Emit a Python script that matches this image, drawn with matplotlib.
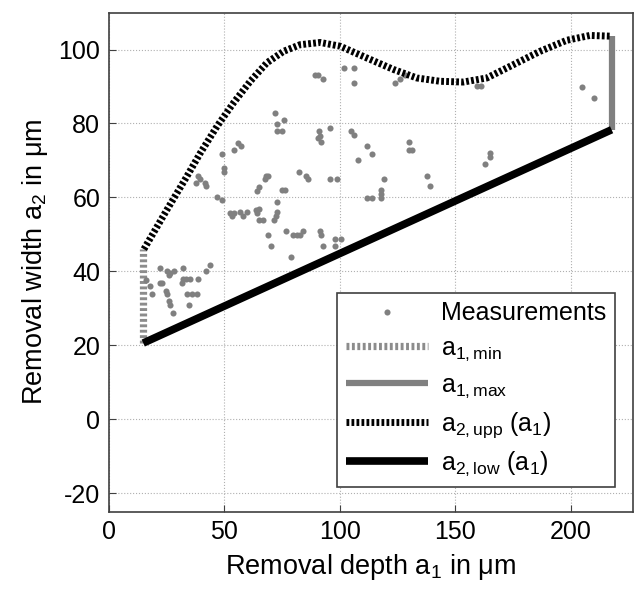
import numpy as np
import matplotlib
matplotlib.use('Agg')
import matplotlib.pyplot as plt

plt.rcParams['font.family'] = ['Liberation Sans', 'DejaVu Sans']
plt.rcParams['mathtext.fontset'] = 'custom'
plt.rcParams['mathtext.rm'] = 'Liberation Sans'
plt.rcParams['mathtext.it'] = 'Liberation Sans'
plt.rcParams['axes.unicode_minus'] = False

# measured points (removal depth a1, removal width a2) in um
meas_a1 = [89.4, 90.8, 93.0, 102.0, 106.0, 106.3, 72.0, 73.0, 76.0, 72.8, 75.0,
           91.1, 95.9, 91.6, 90.8, 92.0, 104.8, 106.0, 56.2, 57.3, 54.1, 49.0,
           50.0, 50.0, 38.9, 39.7, 37.9, 41.8, 42.3, 68.1, 68.9, 67.8, 82.2,
           85.4, 86.1, 95.9, 99.0, 64.2, 65.3, 75.0, 76.5, 47.1, 48.9, 52.6,
           54.1, 53.4, 57.0, 58.1, 59.9, 63.9, 64.2, 65.3, 64.9, 67.0, 72.8,
           72.8, 72.5, 71.7, 69.2, 70.2, 76.9, 79.8, 81.5, 82.9, 84.1, 79.0,
           91.6, 92.0, 93.0, 98.0, 100.5, 98.0, 22.1, 25.3, 26.0, 26.7, 28.1,
           32.2, 32.2, 33.6, 35.3, 38.9, 31.7, 42.3, 44.0, 18.0, 19.0, 16.0,
           22.1, 23.1, 25.0, 25.3, 26.0, 26.7, 27.9, 33.9, 36.1, 38.2, 35.0,
           124.0, 126.2, 128.3, 159.3, 161.2, 205.0, 210.0, 112.0, 113.9,
           108.1, 130.0, 130.0, 131.2, 165.0, 165.0, 163.0, 119.0, 138.0,
           139.1, 112.0, 113.9, 117.8, 117.8, 117.8]
meas_a2 = [93.0, 93.0, 91.9, 95.0, 95.0, 91.0, 82.9, 79.9, 80.9, 77.9, 77.9,
           77.9, 78.8, 76.5, 76.1, 74.9, 77.9, 77.0, 74.7, 74.0, 72.9, 71.8,
           68.0, 66.9, 65.9, 65.0, 63.9, 63.9, 63.0, 65.9, 65.9, 65.0, 66.8,
           65.9, 65.0, 65.0, 65.0, 61.8, 62.8, 61.9, 61.9, 60.1, 59.4, 55.8,
           55.8, 54.9, 56.0, 55.1, 56.0, 56.5, 55.8, 56.9, 54.0, 54.0, 58.7,
           56.0, 54.9, 54.0, 49.9, 46.8, 50.8, 49.9, 49.9, 49.9, 50.8, 43.9,
           50.8, 49.9, 46.8, 48.8, 48.8, 46.8, 40.9, 40.0, 39.1, 39.5, 40.0,
           40.9, 37.9, 37.9, 37.9, 37.9, 36.8, 40.0, 41.8, 35.9, 33.9, 37.7,
           36.8, 36.8, 34.8, 33.9, 31.9, 31.0, 28.7, 33.9, 33.9, 33.9, 30.8,
           91.0, 91.9, 93.0, 90.0, 90.0, 89.9, 86.9, 73.8, 71.8,
           70.0, 74.9, 72.9, 72.9, 72.0, 71.0, 68.9, 65.0, 65.9,
           63.0, 59.9, 59.9, 61.9, 61.0, 59.9]

# limits of the process window
a1_min = 15.0
a1_max = 217.7
a1_min_a2 = [20.6, 46.0]
a1_max_a2 = [78.3, 103.6]

# upper bound a2_upp(a1)
upp_a1 = [15.3, 25.3, 33.9, 39.7, 46.9, 54.1, 61.3, 68.5, 75.7, 82.9, 91.6,
          100.2, 111.8, 123.3, 133.4, 143.5, 153.5, 163.7, 175.2, 186.7,
          198.3, 208.3, 217.7]
upp_a2 = [46.0, 56.7, 65.7, 72.0, 79.2, 85.6, 91.4, 96.4, 99.5, 101.3, 101.9,
          100.9, 97.7, 94.6, 92.3, 91.4, 91.2, 92.3, 95.9, 99.5,
          102.5, 103.8, 103.6]

# lower bound a2_low(a1)
low_a1 = [15.0, 217.7]
low_a2 = [20.6, 78.3]

fig = plt.figure(figsize=(6.35, 5.97), dpi=100)
ax = fig.add_axes([0.171, 0.143, 0.826, 0.836])

ax.plot(meas_a1, meas_a2, 'o', color='#808080', markersize=4.4,
        markeredgewidth=0, label='Measurements', zorder=3)
ax.plot([a1_min, a1_min], a1_min_a2, color='#8c8c8c', linewidth=5.2,
        linestyle=(0, (0.4, 0.35)), dash_capstyle='butt',
        label=r'a$_{\mathrm{1,min}}$', zorder=2)
ax.plot([a1_max, a1_max], a1_max_a2, color='#808080', linewidth=4.5,
        solid_capstyle='butt', label=r'a$_{\mathrm{1,max}}$', zorder=2)
ax.plot(upp_a1, upp_a2, color='black', linewidth=5.0,
        linestyle=(0, (0.4, 0.32)), dash_capstyle='butt',
        label=r'a$_{\mathrm{2,upp}}$ (a$_{\mathrm{1}}$)', zorder=4)
ax.plot(low_a1, low_a2, color='black', linewidth=5.5, solid_capstyle='butt',
        label=r'a$_{\mathrm{2,low}}$ (a$_{\mathrm{1}}$)', zorder=4)

ax.set_xlim(0, 227)
ax.set_ylim(-25, 110)
ax.set_xticks([0, 50, 100, 150, 200])
ax.set_yticks([-20, 0, 20, 40, 60, 80, 100])
ax.grid(True, linestyle=':', color='#b0b0b0', linewidth=0.8)
ax.tick_params(direction='in', labelsize=18, length=5, color='#404040', pad=6)
for s in ax.spines.values():
    s.set_color('#404040')
    s.set_linewidth(1.2)

ax.set_xlabel(r'Removal depth a$_{\mathrm{1}}$ in $\mathrm{\mu}$m', fontsize=19.5,
              labelpad=6)
ax.set_ylabel(r'Removal width a$_{\mathrm{2}}$ in $\mathrm{\mu}$m', fontsize=19.5,
              labelpad=6)

leg = ax.legend(loc='lower right', fontsize=18, handlelength=3.3,
                labelspacing=0.4, borderpad=0.35, handletextpad=0.5,
                fancybox=False, framealpha=1, edgecolor='#404040',
                bbox_to_anchor=(0.989, 0.025))
leg.get_frame().set_linewidth(1.2)

fig.savefig('out.png', dpi=100)
